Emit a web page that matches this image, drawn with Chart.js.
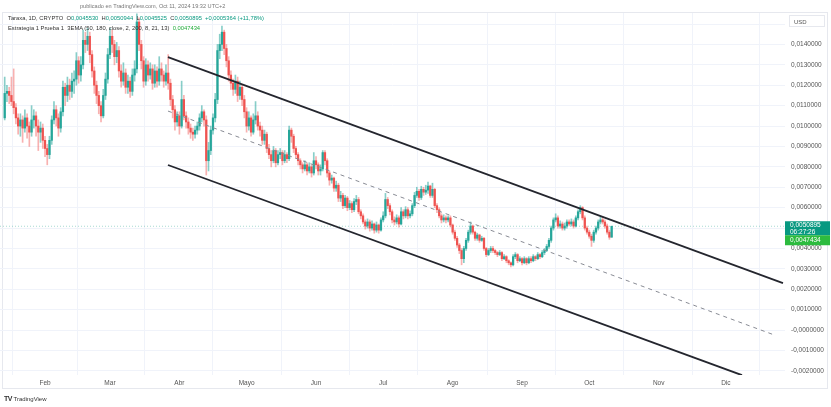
<!DOCTYPE html>
<html>
<head>
<meta charset="utf-8">
<script src="https://cdn.jsdelivr.net/npm/chart.js@4.4.1/dist/chart.umd.min.js"></script>
<style>
  html, body { margin: 0; padding: 0; background: #fff; }
  body { width: 831px; height: 407px; position: relative; overflow: hidden; font-family: "Liberation Sans", Arial, sans-serif; }
  #frame { position: absolute; left: 2px; top: 12px; width: 826px; height: 377px; border: 1px solid #e6e8ee; box-sizing: border-box; }
  canvas { position: absolute; left: 0; top: 0; }
  .t { position: absolute; white-space: nowrap; line-height: 1; }
  .head { left: 80px; top: 4px; font-size: 5.6px; color: #777; }
  .leg1 { left: 8px; top: 16px; font-size: 5.8px; color: #333; }
  .leg2 { left: 8px; top: 26px; font-size: 5.8px; color: #333; }
  .up { color: #089981; }
  .ema { color: #22ab3a; }
  .usd { left: 789px; top: 15px; width: 36px; height: 12px; border: 1px solid #e6e8ee; font-size: 6px; color: #555; padding: 3px 0 0 4px; box-sizing: border-box; }
  .logo { left: 4px; top: 395px; font-size: 6px; color: #333; }
  .logo b { font-size: 7px; letter-spacing: -0.5px; }
</style>
</head>
<body>
<div id="frame"></div>
<canvas id="chart" width="831" height="407"></canvas>
<div class="t head">publicado en TradingView.com, Oct 11, 2024 19:32 UTC+2</div>
<div class="t leg1">Taraxa, 1D, CRYPTO&nbsp;&nbsp;O<span class="up">0,0045530</span>&nbsp;&nbsp;H<span class="up">0,0050944</span>&nbsp;&nbsp;L<span class="up">0,0045525</span>&nbsp;&nbsp;C<span class="up">0,0050895</span>&nbsp;&nbsp;<span class="up">+0,0005364 (+11,78%)</span></div>
<div class="t leg2">Estrategia 1 Prueba 1&nbsp;&nbsp;3EMA (50, 180, close, 2, 200, 8, 21, 13)&nbsp;&nbsp;<span class="ema">0,0047434</span></div>
<div class="t usd">USD</div>
<div class="t logo"><b>TV</b> TradingView</div>
<script>
// daily candles, 14 Jan 2024 .. 11 Oct 2024, prices in units of 0.0001 USD
const unit = 0.0001;
const startDay = 13; // day number counted from 1 Jan 2024
const firstOpen = 104;

const closes = [
  116,117,115,112,109,104,100,103,99,104,100,97,103,105,100,97,99,93,
  89,86,93,103,108,104,99,107,119,115,120,117,122,123,132,125,130,142,140,144,135,127,120,115,110,105,115,123,135,
  144,140,134,137,127,122,126,119,122,117,125,128,151,140,132,122,130,125,128,121,127,122,128,125,122,126,121,113,108,102,105,
  100,113,105,102,99,97,96,98,100,104,107,103,83,88,98,104,113,137,140,146,138,132,125,121,118,122,115,119,113,107,
  100,104,97,103,105,100,98,93,96,89,86,83,88,82,86,87,83,86,84,98,95,89,86,83,81,79,81,78,80,77,83,
  81,78,79,87,83,77,73.5,74.5,69.6,71,64.7,66,61,64.7,60,62,59,63,64,58,56,53,51,53,50,52,49,51.5,49,54,
  56,64,61,58,54,53,55,52,58,56,59,56,57,61,66,68,65,69,67.6,68.6,70.6,66,69,61,59,56,54,55,54,55,51.5,
  48,45,41.7,39,35,40,44,48,51,48,45,46.6,44,45,40,37,39,40,39,38,37,38,35,36,34,33,32,36,37,34,35,
  33,35,33,35,34,36,35,37,36,38,39,41,44,50,54,55,51,52,50,51,53,52,53,51,55,58,60,55,50,48,
  46,44,48,50,53,54,53,51,48,45.53,50.895
];

const highs = [
  124,120,119,124,128,111,106,106,105,108,106,102,110,108,107,103,102,101,
  95,91,95,105,112,110,106,109,122,121,124,123,126,127,136,134,134,147,146,148,146,137,129,122,117,112,118,126,138,
  148,147,142,141,139,130,131,128,125,124,128,132,155,153,142,134,133,132,131,130,130,129,134,131,127,130,135,123,115,110,107,
  107,122,115,107,104,101,99,100,102,106,110,108,105,92,100,106,116,140,145,149,147,140,134,127,123,125,124,122,120,115,
  109,107,105,106,112,107,102,100,98,97,91,88,90,89,88,89,88,88,87,100,99,96,90,87,84,82,83,82,82,81,87,
  85,82,81,88,88,84,78,76,75,73,72,68,67,66,65.5,63.5,63,64.5,66,65,59,57,54,54.5,54,53.5,52.5,53,52,55,
  58,67,65,62,59,55.5,56.5,56,60,59,60.5,60,58.5,62,67.5,70,69,70.5,70,71,72.5,71,72,69.5,62,60,57,56.5,56,56,56,
  52,49,46,42.5,40,41,45,49,53,51.5,48.5,47.5,47,46,45.5,40.5,40,41,41,39.5,38.5,39,38.5,37,36.5,34.5,33.5,37,38,37.5,36,
  35.5,36,35.5,36,36,37,36.5,38,37.5,39,40,42,45,51,55,57,56,53.5,53,52.5,54,54,54.5,54,56,59,61,60.5,56,51,
  49,47,49,51,54,55.5,55.5,54,52,49,50.944
];

const lows = [
  103,112,111,110,106,101,96,95,92,97,94,90,95,99,95,88,92,89,
  85,81,84,91,101,100,95,97,105,110,112,113,114,116,120,121,122,128,136,137,131,124,116,111,106,102,104,113,121,
  133,136,130,131,124,119,120,116,116,114,115,122,126,137,128,119,120,122,123,118,119,119,120,122,119,120,118,110,104,98,100,
  96,99,103,99,96,94,93,94,96,98,102,100,76,78,86,96,102,111,133,137,135,129,122,118,115,116,112,113,110,104,
  97,98,95,96,101,98,95,91,91,87,84,80,82,80,81,84,81,82,82,83,92,87,84,81,79,77,78,76,77,75,76,
  79,76,76,78,81,75,71,72,68,68,63,63,59.5,60,58.5,59,57.5,58,61.5,57,54.5,52,49.5,50,48.5,49,47.5,48,47.5,48.5,
  53,55,59.5,56.5,52.5,51.5,52,50.5,51.5,54.5,55,54.5,55,56,60,65,63.5,64,66,66.5,67,65,65,60,57.5,55,52.5,53,52.5,53,50.5,
  47,44,40.5,37.5,32,33,39,43,47,47,44,44,43,43.5,39,36,36.5,38,38,37,36,36.5,34,34.5,33,32,31,31.5,35,33,33.5,
  32,32.5,32,32.5,33,33.5,34,34.5,35,35.5,37,38.5,40,43,49,53,50,50,49,49,50,51,51,50,50.5,54,57,54,49,47,
  45,41,43,47,49,52,52,50,47,44.5,45.525
];

const monthDays = [31, 60, 91, 121, 152, 182, 213, 244, 274, 305, 335];
const monthLabels = ['Feb', 'Mar', 'Abr', 'Mayo', 'Jun', 'Jul', 'Ago', 'Sep', 'Oct', 'Nov', 'Dic'];
const priceTicks = [-0.002, -0.001, 0, 0.001, 0.002, 0.003, 0.004, 0.005, 0.006, 0.007,
  0.008, 0.009, 0.010, 0.011, 0.012, 0.013, 0.014, 0.015];
const hiddenTicks = [0.005, 0.015];

// parallel channel drawn on the chart: [day, price]
const upperLine = [[85.9, 0.01338], [360.5, 0.00230]];
const lowerLine = [[85.9, 0.00809], [342.2, -0.00221]];
const midLine = [[85.9, 0.010735], [356.9, -0.00025]];

const emaValue = 0.0047434;
const countdown = '06:27:26';

const upColor = '#26a69a';
const downColor = '#ef5350';
const font = '"Liberation Sans", Arial, sans-serif';

function fmt(v) {
  if (Math.abs(v) < 1e-9) return '-0,0000000';
  return v.toFixed(7).replace('.', ',');
}

const opens = [firstOpen].concat(closes.slice(0, -1));
const wicks = [];
const bodies = [];
const bodyColors = [];
const wickColors = [];
closes.forEach(function (c, i) {
  const o = opens[i];
  const x = startDay + i;
  wicks.push({ x: x, y: [lows[i] * unit, highs[i] * unit] });
  bodies.push({ x: x, y: [o * unit, c * unit] });
  const up = c >= o;
  bodyColors.push(up ? upColor : downColor);
  wickColors.push(up ? 'rgba(38,166,154,0.55)' : 'rgba(239,83,80,0.45)');
});

const lastClose = closes[closes.length - 1] * unit;
const xMin = 10.9, xMax = 361.4;

function pts(line) {
  return line.map(function (p) { return { x: p[0], y: p[1] }; });
}

const priceLabels = {
  id: 'priceLabels',
  afterDraw(chart) {
    const ctx = chart.ctx;
    const area = chart.chartArea;
    const py = chart.scales.y.getPixelForValue(lastClose);
    const left = area.right;
    const w = 45;
    ctx.save();
    ctx.fillStyle = '#089981';
    ctx.fillRect(left, py - 5, w, 14);
    ctx.fillStyle = '#2dbb3f';
    ctx.fillRect(left, py + 9, w, 10);
    ctx.fillStyle = '#fff';
    ctx.font = '6.5px ' + font;
    ctx.textBaseline = 'middle';
    ctx.fillText(fmt(lastClose), left + 5, py - 1);
    ctx.fillText(countdown, left + 5, py + 5.5);
    ctx.fillText(fmt(emaValue), left + 5, py + 14);
    ctx.restore();
  }
};

new Chart(document.getElementById('chart'), {
  type: 'bar',
  data: {
    datasets: [
      {
        type: 'line',
        data: pts(upperLine),
        borderColor: '#24262e',
        borderWidth: 1.8,
        pointRadius: 0,
        order: 0
      },
      {
        type: 'line',
        data: pts(lowerLine),
        borderColor: '#24262e',
        borderWidth: 1.8,
        pointRadius: 0,
        order: 0
      },
      {
        type: 'line',
        data: pts(midLine),
        borderColor: '#888b94',
        borderWidth: 1,
        borderDash: [4, 4],
        pointRadius: 0,
        order: 0
      },
      {
        type: 'line',
        data: [{ x: xMin, y: lastClose }, { x: xMax, y: lastClose }],
        borderColor: 'rgba(8,153,129,0.35)',
        borderWidth: 1,
        borderDash: [1, 2],
        pointRadius: 0,
        order: 5
      },
      {
        data: wicks,
        backgroundColor: wickColors,
        barThickness: 1,
        grouped: false,
        order: 2
      },
      {
        data: bodies,
        backgroundColor: bodyColors,
        barThickness: 1.6,
        minBarLength: 1,
        grouped: false,
        order: 1
      }
    ]
  },
  options: {
    responsive: false,
    animation: false,
    layout: { padding: { top: 13, bottom: 17, left: 0, right: 0 } },
    plugins: { legend: { display: false }, tooltip: { enabled: false } },
    scales: {
      x: {
        type: 'linear',
        min: xMin,
        max: xMax,
        offset: false,
        grid: { color: '#f0f3fa', drawTicks: false },
        border: { display: false },
        afterBuildTicks: function (s) { s.ticks = monthDays.map(function (v) { return { value: v }; }); },
        afterFit: function (s) { s.height = 15; },
        ticks: {
          autoSkip: false,
          maxRotation: 0,
          padding: 4,
          color: '#555',
          font: { size: 6.5, family: font },
          callback: function (v, i) { return monthLabels[i]; }
        }
      },
      y: {
        position: 'right',
        min: -0.0022,
        max: 0.01554,
        grid: { color: '#f0f3fa', drawTicks: false },
        border: { display: false },
        afterBuildTicks: function (s) { s.ticks = priceTicks.map(function (v) { return { value: v }; }); },
        afterFit: function (s) { s.width = 46; },
        ticks: {
          padding: 6,
          color: '#555',
          font: { size: 6.5, family: font },
          callback: function (v) {
            if (hiddenTicks.some(function (h) { return Math.abs(h - v) < 1e-9; })) return '';
            return fmt(v);
          }
        }
      }
    }
  },
  plugins: [priceLabels]
});
</script>
</body>
</html>
